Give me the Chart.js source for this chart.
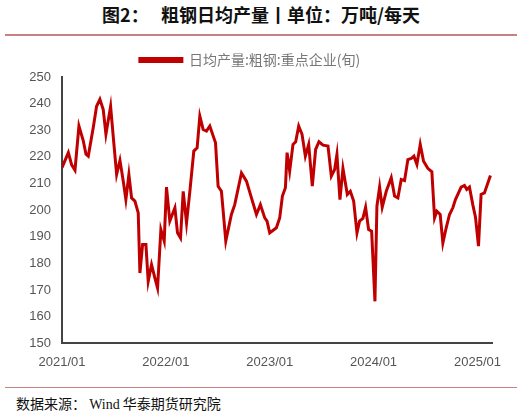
<!DOCTYPE html><html><head><meta charset="utf-8">
<script src="https://cdn.jsdelivr.net/npm/chart.js@4"></script>
<style>
body{margin:0;width:522px;height:416px;background:#fff;position:relative;font-family:"Noto Sans CJK SC",sans-serif;overflow:hidden}
#t{position:absolute;top:1px;left:0;width:522px;text-align:center;font-weight:bold;font-size:18px;color:#111}
#l1{position:absolute;top:34px;left:5px;width:512px;height:2px;background:#c98080}
#l2{position:absolute;top:387px;left:5px;width:512px;height:1px;background:#c98080}
#s{position:absolute;top:393px;left:16px;font-size:14px;color:#111;font-family:"Noto Sans CJK SC","Liberation Serif",serif}
#c{position:absolute;top:43px;left:0;width:522px;height:330px}
</style></head><body>
<div id="t">图2：&nbsp;&nbsp;&nbsp;粗钢日均产量丨单位：万吨/每天</div><div id="l1"></div>
<div id="c"><canvas id="cv"></canvas></div>
<div id="l2"></div><div id="s">数据来源：&nbsp;<span style="font-family:'Liberation Serif'">Wind</span>&nbsp;华泰期货研究院</div>
<script>
const dates=[2021.000,2021.061,2021.093,2021.125,2021.163,2021.205,2021.231,2021.253,2021.301,2021.333,2021.365,2021.397,2021.423,2021.468,2021.500,2021.526,2021.558,2021.590,2021.615,2021.644,2021.670,2021.702,2021.734,2021.750,2021.776,2021.808,2021.830,2021.862,2021.894,2021.920,2021.952,2021.984,2022.006,2022.038,2022.087,2022.112,2022.141,2022.167,2022.199,2022.231,2022.269,2022.301,2022.327,2022.359,2022.391,2022.423,2022.478,2022.503,2022.535,2022.577,2022.631,2022.663,2022.728,2022.776,2022.824,2022.872,2022.910,2022.952,2022.974,2023.000,2023.064,2023.096,2023.122,2023.151,2023.167,2023.192,2023.224,2023.250,2023.279,2023.311,2023.343,2023.375,2023.410,2023.442,2023.474,2023.513,2023.561,2023.593,2023.625,2023.647,2023.676,2023.705,2023.747,2023.776,2023.808,2023.840,2023.865,2023.897,2023.923,2023.952,2023.981,2024.013,2024.032,2024.058,2024.083,2024.122,2024.170,2024.202,2024.234,2024.266,2024.298,2024.330,2024.362,2024.388,2024.417,2024.449,2024.481,2024.522,2024.561,2024.587,2024.609,2024.641,2024.667,2024.699,2024.731,2024.763,2024.788,2024.843,2024.875,2024.897,2024.923,2024.955,2024.981,2025.010,2025.035,2025.067,2025.125];
const output=[216,221.6,217,215,231.6,226,221,220.3,231,239,241.6,237.8,228.5,239,224.7,213.4,218.7,210.9,204,213.4,204.6,203.4,199,176.4,187.1,187.1,173.3,179.6,174.6,170.8,192.7,188.4,208.7,195.9,200.9,191.5,189.6,207.1,195.2,207.1,222.2,223.4,235.3,230.3,229.7,231.6,225.3,209,207.1,188.4,198.4,202.1,214,210.9,204.6,198.4,202.1,197.1,195.9,191.5,193.4,197.1,205.3,208.4,221.6,214.7,224.7,225.7,231.6,228.5,220.3,224.7,209,222.8,225.7,224.4,224.1,212.8,215.3,220.9,204,215.7,205.9,207.1,203.4,191.5,195.9,196.9,201.1,192.7,192.1,165.8,201.5,208.7,201.1,207.1,212.2,205.3,204.6,211.5,211.1,219,219.4,220.3,217.2,224.7,218.4,215.7,214.4,197.1,199.6,198.4,187.7,193.4,198.4,200.9,204,208.7,209.3,207.8,208.7,202.1,197.4,186.5,205.9,206.5,213];
const yearTicks=[2021,2022,2023,2024,2025];
const seriesName='日均产量:粗钢:重点企业(旬)';
new Chart(document.getElementById('cv'),{type:'line',
data:{datasets:[{label:seriesName,data:dates.map((d,i)=>({x:d,y:output[i]})),borderColor:'#c00000',backgroundColor:'#c00000',borderWidth:3,pointRadius:0,tension:0}]},
options:{responsive:true,maintainAspectRatio:false,animation:false,
layout:{padding:{left:8,right:30,top:0,bottom:0}},
plugins:{legend:{labels:{color:'#777',font:{size:14,family:'Noto Sans CJK SC'},boxWidth:42,boxHeight:3}},tooltip:{enabled:false}},
scales:{
x:{type:'linear',min:2021,max:2025.14,grid:{display:false},border:{color:'#444',width:2},
 afterBuildTicks:s=>{s.ticks=yearTicks.map(v=>({value:v}));},
 ticks:{color:'#555',font:{size:13,family:'Liberation Sans'},callback:v=>v+'/01',maxRotation:0,autoSkip:false}},
y:{min:150,max:250,grid:{display:false},border:{color:'#444',width:2},afterFit:s=>{s.width=54;},
 ticks:{stepSize:10,color:'#555',font:{size:13,family:'Liberation Sans'}}}}}});
</script></body></html>
